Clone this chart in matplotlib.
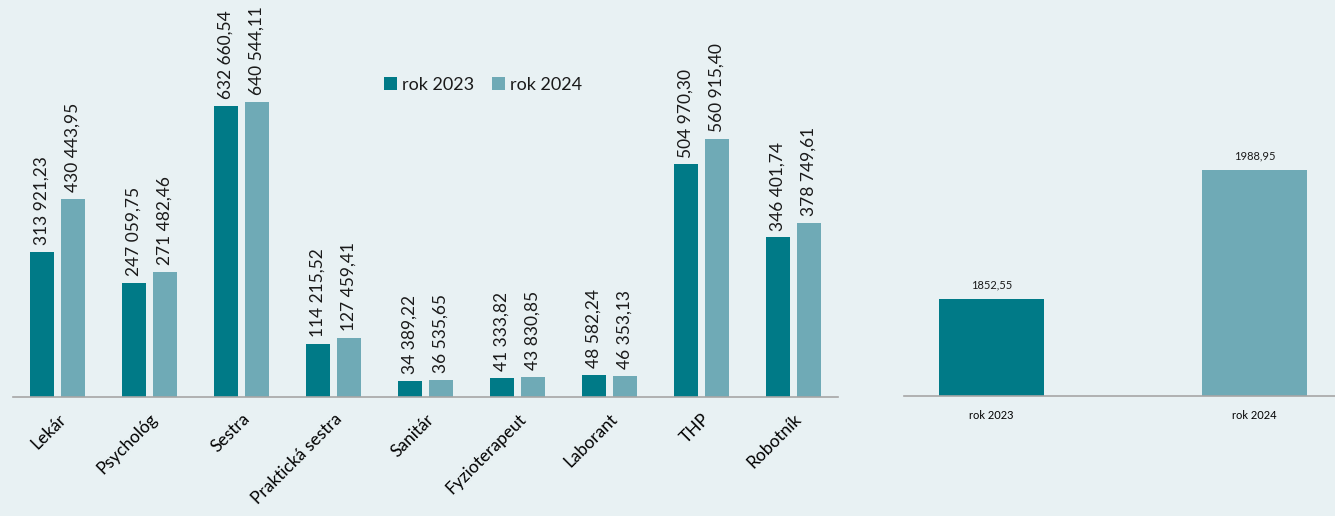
import matplotlib
matplotlib.use('Agg')
import matplotlib.pyplot as plt
import numpy as np

# data
kategorie = ['Lekár', 'Psychológ', 'Sestra', 'Praktická sestra', 'Sanitár',
             'Fyzioterapeut', 'Laborant', 'THP', 'Robotník']
rok_2023 = [313921.23, 247059.75, 632660.54, 114215.52, 34389.22,
            41333.82, 48582.24, 504970.30, 346401.74]
rok_2024 = [430443.95, 271482.46, 640544.11, 127459.41, 36535.65,
            43830.85, 46353.13, 560915.40, 378749.61]
roky = ['rok 2023', 'rok 2024']
priemer = [1852.55, 1988.95]

TMAVA = '#007a87'
SVETLA = '#6faab6'
POZADIE = '#e8f1f3'
OS = '#a6a6a6'

plt.rcParams['font.family'] = ['Lato', 'DejaVu Sans']
plt.rcParams['text.color'] = '#1a1a1a'


def fmt(v):
    s = f'{v:,.2f}'
    return s.replace(',', ' ').replace('.', ',')


fig = plt.figure(figsize=(13.35, 5.16), dpi=100)
fig.patch.set_facecolor(POZADIE)
W, H = 1335, 516

# ľavý graf
ax = fig.add_axes([13 / W, (H - 397) / H, 825 / W, 387 / H])
ax.set_facecolor(POZADIE)
x = np.arange(len(kategorie))
sirka = 0.26
posun = 0.168
ax.bar(x - posun, rok_2023, sirka, color=TMAVA, label='rok 2023')
ax.bar(x + posun, rok_2024, sirka, color=SVETLA, label='rok 2024')
ax.set_xlim(-0.484, 8.484)
ax.set_ylim(0, 840400)
for i in range(len(kategorie)):
    for xx, v in ((x[i] - posun, rok_2023[i]), (x[i] + posun, rok_2024[i])):
        ax.annotate(fmt(v), (xx, v), xytext=(0, 5), textcoords='offset points',
                    rotation=90, ha='center', va='bottom', fontsize=12.5)
ax.set_xticks(x)
ax.set_xticklabels(kategorie, rotation=45, ha='right', va='top',
                   rotation_mode='anchor', fontsize=12.5)
ax.tick_params(axis='x', length=0, pad=10)
ax.set_yticks([])
for s in ['top', 'right', 'left']:
    ax.spines[s].set_visible(False)
ax.spines['bottom'].set_color(OS)
ax.spines['bottom'].set_linewidth(1.2)
ax.legend(loc='upper left', bbox_to_anchor=(0.43, 0.87), ncol=2, frameon=False,
          fontsize=13, handlelength=0.7, handleheight=0.7, handletextpad=0.3,
          columnspacing=1.0)

# pravý graf
ax2 = fig.add_axes([904 / W, (H - 396) / H, 431 / W, 386 / H])
ax2.set_facecolor(POZADIE)
x2 = np.arange(len(roky))
ax2.bar(x2, priemer, 0.4, color=[TMAVA, SVETLA])
ax2.set_xlim(-0.333, 1.306)
ax2.set_ylim(1750, 2158)
for xx, v in zip(x2, priemer):
    ax2.annotate(f'{v:.2f}'.replace('.', ','), (xx, v), xytext=(0, 6),
                 textcoords='offset points', ha='center', va='bottom', fontsize=8)
ax2.set_xticks(x2)
ax2.set_xticklabels(roky, fontsize=8)
ax2.tick_params(axis='x', length=0, pad=10)
ax2.set_yticks([])
for s in ['top', 'right', 'left']:
    ax2.spines[s].set_visible(False)
ax2.spines['bottom'].set_color(OS)
ax2.spines['bottom'].set_linewidth(1.2)

fig.savefig('out.png', dpi=100, facecolor=POZADIE)
